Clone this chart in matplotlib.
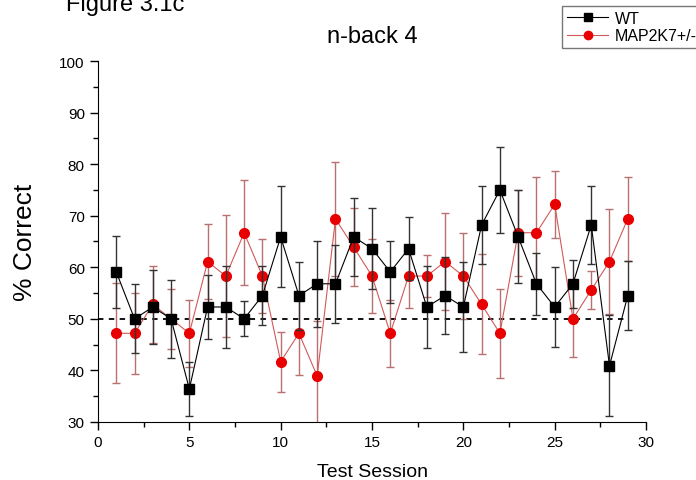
import matplotlib
matplotlib.use("Agg")
import matplotlib.pyplot as plt
from matplotlib.lines import Line2D
from matplotlib.ticker import MultipleLocator

plt.rcParams["font.family"] = ["Liberation Sans", "DejaVu Sans"]

# percent correct per test session, n-back 4
sessions = list(range(1, 30))
wt_mean = [59.1, 50.0, 52.3, 50.0, 36.4, 52.3, 52.3, 50.0, 54.5, 65.9,
           54.5, 56.8, 56.8, 65.9, 63.6, 59.1, 63.6, 52.3, 54.5, 52.3,
           68.2, 75.0, 65.9, 56.8, 52.3, 56.8, 68.2, 40.9, 54.5]
wt_err = [7.0, 6.7, 7.1, 7.5, 5.3, 6.2, 7.9, 3.4, 5.7, 9.8,
          6.6, 8.3, 7.6, 7.6, 7.8, 6.0, 6.1, 7.9, 7.5, 8.7,
          7.6, 8.3, 9.0, 6.0, 7.8, 4.7, 7.6, 9.8, 6.7]
mut_mean = [47.2, 47.2, 52.8, 50.0, 47.2, 61.1, 58.3, 66.7, 58.3, 41.7,
            47.2, 38.9, 69.4, 63.9, 58.3, 47.2, 58.3, 58.3, 61.1, 58.3,
            52.8, 47.2, 66.7, 66.7, 72.2, 50.0, 55.6, 61.1, 69.4]
mut_err = [9.7, 7.9, 7.5, 5.8, 6.5, 7.3, 11.8, 10.2, 7.2, 5.8,
           8.0, 10.7, 11.0, 7.5, 7.2, 6.5, 6.1, 4.1, 9.4, 8.3,
           9.7, 8.6, 8.3, 10.8, 6.5, 7.4, 3.7, 10.2, 8.1]
chance = 50

wt_style = dict(color="black", lw=0.8, marker="s", mfc="black", mec="black")
mut_style = dict(color="#d05a5a", lw=0.8, marker="o", mfc="#e80000", mec="#e80000")

fig = plt.figure(figsize=(6.96, 4.81), dpi=100)
ax = fig.add_axes([0.1408, 0.1206, 0.7874, 0.7505])

ax.errorbar(sessions, wt_mean, yerr=wt_err, ms=6.5, ecolor="#333333",
            elinewidth=1.0, capsize=3, capthick=1.0, zorder=3, **wt_style)
ax.errorbar(sessions, mut_mean, yerr=mut_err, ms=7, ecolor="#b87070",
            elinewidth=1.0, capsize=3, capthick=1.0, zorder=2, **mut_style)
ax.plot([0, sessions[-1]], [chance, chance], color="black", lw=1.3,
        ls=(0, (3, 3)), zorder=1)

ax.set_xlim(0, 30)
ax.set_ylim(30, 100)
ax.xaxis.set_major_locator(MultipleLocator(5))
ax.xaxis.set_minor_locator(MultipleLocator(2.5))
ax.yaxis.set_major_locator(MultipleLocator(10))
ax.yaxis.set_minor_locator(MultipleLocator(5))
ax.tick_params(which="major", direction="out", length=6, width=1, labelsize=11)
ax.tick_params(which="minor", direction="out", length=3.5, width=1)
for side in ("top", "right"):
    ax.spines[side].set_visible(False)

ax.set_xlabel("Test Session", fontsize=14, labelpad=10)
ax.set_ylabel("% Correct", fontsize=19, labelpad=16)
ax.set_title("n-back 4", fontsize=17, pad=14)

fig.text(0.095, 1.012, "Figure 3.1c", fontsize=17, ha="left", va="top")

# legend shows line + marker only
handles = [Line2D([], [], ms=5.5, **wt_style), Line2D([], [], ms=6, **mut_style)]
leg = fig.legend(handles, ["WT", "MAP2K7+/-"], loc="upper left",
                 bbox_to_anchor=(562 / 696, 1 - 7 / 481),
                 fontsize=11.5, frameon=True, fancybox=False, borderpad=0.3,
                 handlelength=2.6, handletextpad=0.4, labelspacing=0.15,
                 borderaxespad=0)
leg.get_frame().set_edgecolor("#555555")
leg.get_frame().set_linewidth(1.0)

fig.savefig("out.png", dpi=100)
